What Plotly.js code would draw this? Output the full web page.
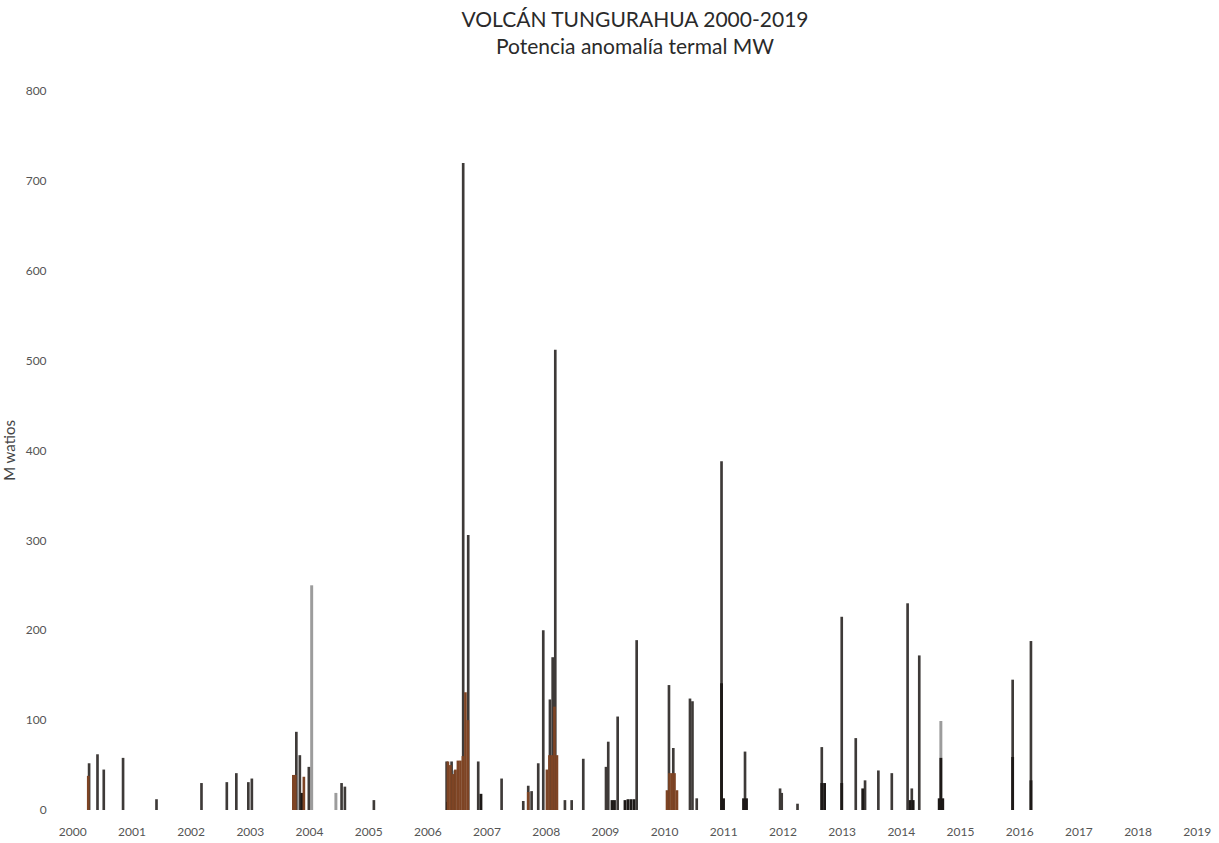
<!DOCTYPE html>
<html>
<head>
<meta charset="utf-8">
<script src="https://cdn.plot.ly/plotly-3.0.1.min.js"></script>
<style>html,body{margin:0;padding:0;background:#fff;}#chart{width:1219px;height:843px;}</style>
</head>
<body>
<div id="chart"></div>
<script>
// Year tick labels
var yearTicks = [2000,2001,2002,2003,2004,2005,2006,2007,2008,2009,2010,2011,2012,2013,2014,2015,2016,2017,2018,2019];
var yearLabels = ["2000","2001","2002","2003","2004","2005","2006","2007","2008","2009","2010","2011","2012","2013","2014","2015","2016","2017","2018","2019"];

// Main series (dark grey bars): decimal year, MW
var mainDates = [2000.276,2000.418,2000.524,2000.850,2001.415,2002.175,2002.603,2002.764,2002.967,2003.026,
  2003.778,2003.837,2003.989,2004.542,2004.598,2005.088,2006.317,2006.401,2006.457,2006.597,
  2006.682,2006.851,2007.246,2007.612,2007.696,2007.753,2007.865,2007.950,2008.063,2008.109,
  2008.153,2008.316,2008.430,2008.626,2009.010,2009.048,2009.207,2009.528,2010.074,2010.147,
  2010.429,2010.471,2010.543,2010.962,2011.359,2011.951,2011.979,2012.246,2012.656,2012.993,
  2013.230,2013.387,2013.612,2013.839,2014.106,2014.177,2014.303,2015.881,2016.190];
var mainValues = [52,62,45,58,12,30,31,41,31,35,
  87,61,48,30,26,11,54,54,44,720,
  306,54,35,10,27,21,52,200,123,170,
  512,11,11,57,48,76,104,189,139,69,
  124,121,13,388,65,24,19,7,70,215,
  80,33,44,41,230,24,172,145,188];

// Lower-level series (black)
var lowDates = [2003.870,2006.330,2006.897,2009.111,2009.153,2009.331,2009.381,2009.432,2009.483,2010.962,
  2010.996,2011.334,2011.384,2012.656,2012.703,2012.993,2013.348,2014.149,2014.200,2014.640,
  2014.668,2014.700,2015.881,2016.190];
var lowValues = [19,9,18,11,11,11,12,12,12,141,
  13,13,13,30,30,30,24,11,11,13,
  58,13,59,33];

// Light grey series
var lightDates = [2004.037,2004.446,2014.668];
var lightValues = [250,19,99];

// Brown series
var brownDates = [2000.262,2003.727,2003.760,2003.905,2006.339,2006.381,2006.423,2006.466,2006.508,2006.550,
  2006.592,2006.635,2006.677,2007.696,2008.012,2008.054,2008.097,2008.139,2008.181,2010.041,
  2010.083,2010.125,2010.167,2010.209];
var brownValues = [38,39,39,37,54,50,40,45,55,55,
  60,131,100,20,45,61,61,115,61,22,
  41,41,41,22];

var traces = [
  {type:'bar', x:lightDates, y:lightValues, width:0.05, marker:{color:'#9c9c9c'}, hoverinfo:'x+y'},
  {type:'bar', x:mainDates, y:mainValues, width:0.045, marker:{color:'#3e3a38'}, hoverinfo:'x+y'},
  {type:'bar', x:lowDates, y:lowValues, width:0.048, marker:{color:'#1d1917'}, hoverinfo:'x+y'},
  {type:'bar', x:brownDates, y:brownValues, width:0.045, marker:{color:'#7e4424'}, hoverinfo:'x+y'}
];

var layout = {
  width:1219, height:843,
  paper_bgcolor:'#ffffff', plot_bgcolor:'#ffffff',
  showlegend:false,
  barmode:'overlay',
  margin:{l:55, r:4, t:91, b:33},
  font:{family:'Lato, "Liberation Sans", sans-serif', color:'#444'},
  title:{text:'VOLCÁN TUNGURAHUA 2000-2019<br>Potencia anomalía termal MW', xref:'paper', x:0.5, xanchor:'center',
         yref:'container', y:0.968, yanchor:'middle', font:{size:21, color:'#2a2a2a', family:'Lato, sans-serif'}},
  xaxis:{range:[1999.70, 2019.30], tickmode:'array', tickvals:yearTicks, ticktext:yearLabels,
         showgrid:false, zeroline:false, showline:false, ticks:'outside', ticklen:11, tickcolor:'rgba(0,0,0,0)',
         tickfont:{size:12, color:'#555'}},
  yaxis:{range:[0,800], tickmode:'array', tickvals:[0,100,200,300,400,500,600,700,800],
         showgrid:false, zeroline:false, showline:false, ticks:'outside', ticklen:5, tickcolor:'rgba(0,0,0,0)',
         tickfont:{size:12, color:'#555'},
         title:{text:'M watios', font:{size:15, color:'#444'}, standoff:6}}
};

Plotly.newPlot('chart', traces, layout, {displayModeBar:false, staticPlot:true});
</script>
</body>
</html>
